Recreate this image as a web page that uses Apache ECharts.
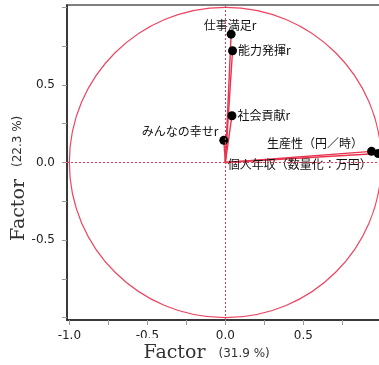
<!DOCTYPE html>
<html>
<head>
<meta charset="utf-8">
<script src="https://cdn.jsdelivr.net/npm/echarts@6/dist/echarts.min.js"></script>
<style>
  html, body { margin: 0; padding: 0; background: #fff; }
  #chart { width: 379px; height: 365px; }
</style>
</head>
<body>
<div id="chart"></div>
<script>
// Factor loadings of each variable on the first two factors
const variables = ['仕事満足r', '能力発揮r', '社会貢献r', 'みんなの幸せr', '生産性（円／時）', '個人年収（数量化：万円）'];
const factor1 = [0.037, 0.046, 0.042, -0.010, 0.937, 0.980];
const factor2 = [0.827, 0.720, 0.301, 0.143, 0.072, 0.058];

// Axis ticks and labels
const tickValues = [-1.0, -0.75, -0.5, -0.25, 0.0, 0.25, 0.5, 0.75, 1.0];
const xLabelValues = [-1.0, -0.5, 0.0, 0.5];
const yLabelValues = [-0.5, 0.0, 0.5];

// Axis titles
const axisTitle = 'Factor';
const xShare = '(31.9 %)';
const yShare = '(22.3 %)';

const RED = '#e8344e';
const LABEL_FONT = '"Noto Sans CJK JP", "Noto Sans", sans-serif';

// Where each variable's name sits around its point
const labelPlacement = {
  '仕事満足r': { position: 'inside', offset: [-1, -8.5] },
  '能力発揮r': { position: 'right', distance: 1 },
  '社会貢献r': { position: 'right', distance: 1 },
  'みんなの幸せr': { position: 'left', distance: 1, offset: [0, -9] },
  '生産性（円／時）': { position: 'left', distance: 4, offset: [0, -8] },
  '個人年収（数量化：万円）': { position: 'left', distance: 2, offset: [0, 11] }
};

const points = variables.map((name, i) => ({
  name: name,
  value: [factor1[i], factor2[i]],
  label: labelPlacement[name]
}));

const chart = echarts.init(document.getElementById('chart'), null, { renderer: 'canvas' });

function axisCommon(labelValues, labelMargin) {
  return {
    type: 'value',
    min: -1.015,
    max: 1.015,
    splitLine: { show: false },
    axisLine: { show: true, onZero: false, lineStyle: { color: '#222', width: 1.5 } },
    axisTick: { show: true, customValues: tickValues, length: 5, lineStyle: { color: '#999', width: 1 } },
    axisLabel: {
      customValues: labelValues,
      formatter: v => Number(v).toFixed(1),
      fontFamily: '"DejaVu Sans", sans-serif',
      fontSize: 12,
      color: '#222',
      margin: labelMargin
    }
  };
}

const option = {
  animation: false,
  backgroundColor: '#fff',
  grid: {
    left: 67, top: 5, width: 316.7, height: 315,
    outerBoundsMode: 'none',
    containLabel: false,
    show: true, borderColor: '#555', borderWidth: 1.5, backgroundColor: 'transparent'
  },
  xAxis: axisCommon(xLabelValues, 10),
  yAxis: axisCommon(yLabelValues, 12),
  series: [
    {
      // unit circle of correlations plus the zero reference lines
      type: 'custom',
      silent: true,
      z: 1,
      data: [[0, 0]],
      renderItem: function (params, api) {
        const c = api.coord([api.value(0), api.value(1)]);
        const r = api.size([1, 1]);
        return {
          type: 'ellipse',
          shape: { cx: c[0], cy: c[1], rx: r[0], ry: r[1] },
          style: { fill: 'none', stroke: '#ec4560', lineWidth: 1.2 }
        };
      },
      markLine: {
        silent: true,
        symbol: ['none', 'none'],
        label: { show: false },
        lineStyle: { color: RED, type: [2, 2], width: 1 },
        data: [{ xAxis: 0 }, { yAxis: 0 }]
      }
    },
    {
      // loading vectors from the origin
      type: 'custom',
      silent: true,
      z: 2,
      data: variables.map((name, i) => [factor1[i], factor2[i]]),
      renderItem: function (params, api) {
        const o = api.coord([0, 0]);
        const p = api.coord([api.value(0), api.value(1)]);
        return {
          type: 'line',
          shape: { x1: o[0], y1: o[1], x2: p[0], y2: p[1] },
          style: { stroke: RED, lineWidth: 1.4 }
        };
      }
    },
    {
      type: 'scatter',
      z: 3,
      symbol: 'circle',
      symbolSize: 9,
      itemStyle: { color: '#000', opacity: 1 },
      label: {
        show: true,
        formatter: '{b}',
        fontFamily: LABEL_FONT,
        fontSize: 12,
        color: '#111'
      },
      data: points
    }
  ],
  graphic: [
    {
      type: 'text', x: 141.5, y: 352.6, z: 100,
      style: {
        text: axisTitle, font: '19px "DejaVu Serif", serif', fill: '#333',
        textAlign: 'left', textVerticalAlign: 'middle',
        backgroundColor: '#fff', padding: [6, 2, 4, 2]
      }
    },
    {
      type: 'text', x: 218.5, y: 353.7, z: 100,
      style: {
        text: xShare, font: '12px "DejaVu Sans", sans-serif', fill: '#333',
        textAlign: 'left', textVerticalAlign: 'middle'
      }
    },
    {
      type: 'text', x: 19.3, y: 241, rotation: Math.PI / 2, z: 100,
      style: {
        text: axisTitle, font: '19px "DejaVu Serif", serif', fill: '#333',
        textAlign: 'left', textVerticalAlign: 'middle'
      }
    },
    {
      type: 'text', x: 18, y: 167, rotation: Math.PI / 2, z: 100,
      style: {
        text: yShare, font: '12px "DejaVu Sans", sans-serif', fill: '#333',
        textAlign: 'left', textVerticalAlign: 'middle'
      }
    }
  ]
};

chart.setOption(option);
</script>
</body>
</html>
